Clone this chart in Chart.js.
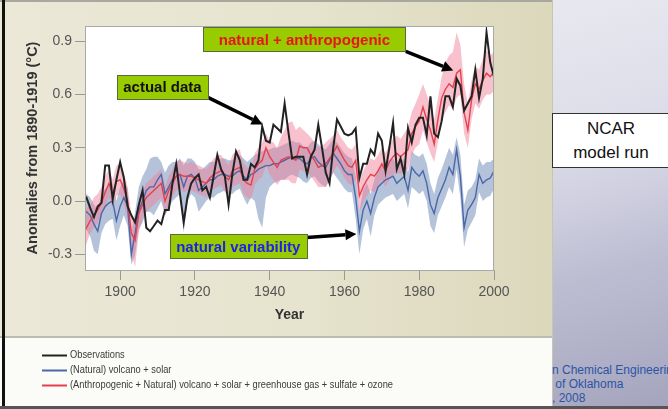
<!DOCTYPE html>
<html><head><meta charset="utf-8">
<script src="https://cdn.jsdelivr.net/npm/chart.js@4"></script>
<style>
html,body{margin:0;padding:0;width:668px;height:409px;overflow:hidden;font-family:"Liberation Sans",Arial,sans-serif;background:#fff}
#beige{position:absolute;left:0;top:0;width:552px;height:337px;background:linear-gradient(to right,#ebe8d8 0%,#e6e3ce 55%,#dcd8bc 100%);border-top:2px solid #a9a89e;box-sizing:border-box}
#white{position:absolute;left:0;top:336px;width:552px;height:73px;background:#fbfbf7;border-top:2px solid #bdbcb2;box-sizing:border-box}
#lborder{position:absolute;left:2px;top:0;width:3px;height:409px;background:#111}
#right{position:absolute;left:552px;top:0;width:116px;height:409px;background:linear-gradient(165deg,#e8e8f0 0%,#dedeea 30%,#cfcfe0 48%,#bdbdd2 65%,#a4a4be 100%);border-left:1px solid #c8c6b0;box-sizing:border-box}
#bottomline{position:absolute;left:0;top:406px;width:668px;height:3px;background:#555}
#ncar{position:absolute;left:552px;top:113px;width:118px;height:55px;background:#fff;border:1px solid #333;box-sizing:border-box;text-align:center;font-size:17px;line-height:24px;color:#111;padding-top:3px}
#footer{position:absolute;left:552px;top:363px;font-size:12px;line-height:14px;color:#2b55a4;white-space:nowrap}
#wrap{position:absolute;left:0;top:0;width:553px;height:409px}
</style></head>
<body>
<div id="beige"></div>
<div id="white"></div>
<div id="right"></div>
<div id="lborder"></div>
<div id="bottomline"></div>
<div id="ncar">NCAR<br>model run</div>
<div id="footer">n Chemical Engineerin<br>&nbsp;of Oklahoma<br>, 2008</div>
<div id="wrap"><canvas id="c" width="553" height="409"></canvas></div>
<script>
// ---- data, one value per year from firstYear ----
const firstYear = 1890;
const xTicks = [1900, 1920, 1940, 1960, 1980, 2000];
const yTicks = [-0.3, 0.0, 0.3, 0.6, 0.9];

const observations = [
  0.03, 0.02, -0.04, -0.09, -0.03, -0.01, 0.20, 0.20, 0.01, 0.12,
  0.22, 0.13, -0.03, -0.08, -0.12, -0.02, 0.06, -0.15, -0.17, -0.14,
  -0.11, -0.13, -0.05, -0.05, 0.10, 0.21, 0.04, -0.12, 0.02, 0.10,
  0.13, 0.15, 0.06, 0.08, 0.02, 0.14, 0.26, 0.18, 0.14, -0.02,
  0.15, 0.28, 0.23, 0.12, 0.12, 0.21, 0.19, 0.23, 0.42, 0.34,
  0.33, 0.43, 0.41, 0.39, 0.55, 0.39, 0.24, 0.25, 0.25, 0.25,
  0.15, 0.25, 0.29, 0.43, 0.30, 0.16, 0.10, 0.30, 0.46, 0.42,
  0.38, 0.37, 0.38, 0.41, 0.13, 0.21, 0.21, 0.29, 0.26, 0.38,
  0.34, 0.17, 0.30, 0.44, 0.18, 0.24, 0.15, 0.41, 0.33, 0.43,
  0.47, 0.47, 0.37, 0.59, 0.38, 0.36, 0.45, 0.59, 0.59, 0.53,
  0.69, 0.65, 0.51, 0.55, 0.59, 0.74, 0.58, 0.69, 0.95, 0.78,
  0.70
];

const anthroMean = [
  -0.20, -0.15, -0.11, -0.08, -0.05, -0.01, 0.05, 0.10, 0.04, 0.11,
  0.12, 0.07, 0.00, -0.18, -0.22, -0.07, -0.02, 0.02, 0.04, 0.06,
  0.08, 0.10, 0.00, 0.06, 0.10, 0.14, 0.15, 0.14, 0.14, 0.14,
  0.13, 0.12, 0.11, 0.10, 0.13, 0.15, 0.16, 0.17, 0.14, 0.12,
  0.17, 0.18, 0.19, 0.12, 0.10, 0.09, 0.18, 0.21, 0.23, 0.30,
  0.25, 0.22, 0.19, 0.23, 0.24, 0.25, 0.24, 0.23, 0.31, 0.30,
  0.30, 0.26, 0.23, 0.19, 0.20, 0.21, 0.24, 0.27, 0.31, 0.27,
  0.23, 0.20, 0.19, 0.23, 0.03, 0.08, 0.12, 0.15, 0.14, 0.17,
  0.21, 0.17, 0.22, 0.25, 0.27, 0.25, 0.27, 0.29, 0.38, 0.42,
  0.45, 0.53, 0.46, 0.40, 0.32, 0.46, 0.58, 0.63, 0.66, 0.64,
  0.72, 0.74, 0.50, 0.40, 0.57, 0.66, 0.63, 0.68, 0.72, 0.70,
  0.73
];
const anthroLow = [
  -0.30, -0.24, -0.18, -0.15, -0.12, -0.08, -0.03, 0.02, -0.04, 0.03,
  0.04, -0.02, -0.10, -0.30, -0.37, -0.17, -0.10, -0.06, -0.04, -0.02,
  0.00, 0.02, -0.08, -0.03, 0.02, 0.06, 0.07, 0.05, 0.06, 0.06,
  0.05, 0.04, 0.03, 0.02, 0.05, 0.07, 0.08, 0.09, 0.05, 0.03,
  0.08, 0.09, 0.10, 0.04, 0.02, 0.01, 0.09, 0.12, 0.14, 0.20,
  0.15, 0.12, 0.09, 0.12, 0.12, 0.12, 0.10, 0.10, 0.18, 0.17,
  0.17, 0.14, 0.11, 0.08, 0.08, 0.08, 0.12, 0.16, 0.20, 0.17,
  0.13, 0.10, 0.09, 0.12, -0.06, -0.01, 0.03, 0.06, 0.05, 0.08,
  0.12, 0.08, 0.12, 0.15, 0.16, 0.15, 0.17, 0.18, 0.26, 0.30,
  0.32, 0.40, 0.33, 0.27, 0.22, 0.33, 0.45, 0.50, 0.54, 0.52,
  0.58, 0.60, 0.38, 0.30, 0.46, 0.55, 0.52, 0.57, 0.60, 0.60,
  0.62
];
const anthroHigh = [
  -0.02, -0.04, -0.02, 0.02, 0.04, 0.08, 0.14, 0.18, 0.12, 0.20,
  0.21, 0.16, 0.08, -0.08, -0.12, 0.02, 0.06, 0.10, 0.12, 0.14,
  0.16, 0.18, 0.08, 0.14, 0.18, 0.22, 0.23, 0.22, 0.21, 0.22,
  0.21, 0.20, 0.19, 0.18, 0.21, 0.24, 0.26, 0.26, 0.23, 0.20,
  0.26, 0.28, 0.29, 0.21, 0.19, 0.18, 0.27, 0.30, 0.33, 0.38,
  0.34, 0.33, 0.30, 0.36, 0.40, 0.44, 0.45, 0.40, 0.42, 0.40,
  0.38, 0.36, 0.33, 0.30, 0.31, 0.33, 0.35, 0.37, 0.40, 0.36,
  0.33, 0.30, 0.29, 0.32, 0.12, 0.17, 0.21, 0.24, 0.23, 0.26,
  0.30, 0.27, 0.32, 0.35, 0.37, 0.35, 0.38, 0.42, 0.50, 0.55,
  0.60, 0.66, 0.60, 0.54, 0.46, 0.58, 0.70, 0.78, 0.82, 0.84,
  0.95, 0.88, 0.66, 0.55, 0.68, 0.76, 0.74, 0.80, 0.85, 0.82,
  0.84
];

const naturalMean = [
  -0.05, -0.06, -0.08, -0.13, -0.17, -0.07, -0.03, -0.01, 0.00, -0.11,
  -0.03, 0.02, -0.03, -0.30, -0.18, -0.05, 0.00, 0.06, 0.08, 0.08,
  0.12, 0.15, 0.04, 0.08, 0.12, 0.14, 0.15, 0.08, 0.14, 0.15,
  0.13, 0.06, 0.08, 0.10, 0.12, 0.12, 0.14, 0.15, 0.15, 0.14,
  0.14, 0.16, 0.17, 0.14, 0.12, 0.15, 0.16, 0.18, 0.19, 0.20,
  0.20, 0.21, 0.21, 0.22, 0.23, 0.24, 0.25, 0.24, 0.24, 0.22,
  0.21, 0.24, 0.25, 0.22, 0.20, 0.19, 0.23, 0.27, 0.24, 0.21,
  0.17, 0.15, 0.15, 0.02, -0.17, -0.05, 0.00, -0.07, 0.02, 0.08,
  0.10, 0.12, 0.13, 0.14, 0.10, 0.12, 0.14, 0.06, 0.19, 0.16,
  0.14, 0.17, 0.10, -0.02, -0.07, 0.02, 0.07, 0.12, 0.19, 0.15,
  0.29, 0.14, -0.15, -0.05, -0.02, 0.02, 0.15, 0.10, 0.12, 0.13,
  0.17
];
const naturalLow = [
  -0.14, -0.16, -0.20, -0.28, -0.30, -0.18, -0.13, -0.11, -0.10, -0.22,
  -0.14, -0.08, -0.14, -0.36, -0.30, -0.16, -0.12, -0.06, -0.06, -0.08,
  -0.04, 0.00, -0.08, -0.04, 0.00, 0.02, 0.04, -0.18, 0.00, 0.04,
  0.02, -0.06, -0.03, 0.00, 0.02, 0.02, 0.04, 0.05, 0.06, 0.04,
  0.04, 0.06, 0.07, 0.02, -0.02, 0.02, 0.00, -0.10, -0.15, 0.02,
  0.08, 0.10, 0.11, 0.12, 0.12, 0.14, 0.15, 0.14, 0.13, 0.11,
  0.10, 0.13, 0.14, 0.11, 0.09, 0.08, 0.12, 0.16, 0.13, 0.10,
  0.07, 0.05, 0.05, -0.10, -0.30, -0.16, -0.10, -0.20, -0.08, -0.02,
  0.00, 0.02, 0.03, 0.04, 0.00, 0.02, 0.04, -0.04, 0.08, 0.06,
  0.04, 0.06, 0.00, -0.14, -0.18, -0.08, -0.03, 0.02, 0.08, 0.04,
  0.18, 0.02, -0.26, -0.16, -0.12, -0.08, 0.05, 0.00, 0.02, 0.03,
  0.07
];
const naturalHigh = [
  0.06, 0.04, 0.02, -0.02, -0.05, 0.04, 0.07, 0.09, 0.10, 0.00,
  0.08, 0.12, 0.07, -0.18, -0.06, 0.08, 0.14, 0.18, 0.24, 0.25,
  0.25, 0.22, 0.16, 0.20, 0.22, 0.22, 0.24, 0.20, 0.24, 0.24,
  0.22, 0.18, 0.18, 0.20, 0.22, 0.22, 0.23, 0.24, 0.24, 0.23,
  0.23, 0.25, 0.26, 0.24, 0.22, 0.24, 0.26, 0.27, 0.28, 0.29,
  0.29, 0.30, 0.30, 0.31, 0.32, 0.33, 0.34, 0.33, 0.33, 0.31,
  0.30, 0.33, 0.34, 0.32, 0.30, 0.29, 0.32, 0.35, 0.33, 0.30,
  0.27, 0.25, 0.24, 0.14, -0.06, 0.06, 0.10, 0.04, 0.12, 0.18,
  0.20, 0.22, 0.23, 0.24, 0.20, 0.22, 0.24, 0.16, 0.28, 0.26,
  0.25, 0.27, 0.21, 0.10, 0.04, 0.13, 0.18, 0.24, 0.30, 0.26,
  0.36, 0.26, -0.02, 0.06, 0.08, 0.12, 0.24, 0.20, 0.22, 0.22,
  0.24
];

const seriesNames = [
  'Observations',
  '(Natural) volcano + solar',
  '(Anthropogenic + Natural) volcano + solar + greenhouse gas + sulfate + ozone'
];
const yAxisTitle = 'Anomalies from 1890-1919 (\u00B0C)';
const xAxisTitle = 'Year';

// ---- annotation callouts (positions in data units) ----
const callouts = [
  {text: 'natural + anthropogenic', color: '#e8141c', cx: 1949.3, cy: 0.910, w: 202, h: 24},
  {text: 'actual data',             color: '#111111', cx: 1911.3, cy: 0.645, w: 91,  h: 24},
  {text: 'natural variability',     color: '#1c22e6', cx: 1931.6, cy: -0.255, w: 137, h: 24}
];
const arrows = [
  {x0: 1976.4, y0: 0.843, x1: 1989.1, y1: 0.735},
  {x0: 1923.6, y0: 0.583, x1: 1938.1, y1: 0.432},
  {x0: 1949.9, y0: -0.205, x1: 1963.2, y1: -0.185}
];

// ---- build ----
const years = observations.map((_, i) => firstYear + i);
const pts = arr => arr.map((v, i) => ({x: years[i], y: v}));

const COL_OBS = '#222222', COL_NAT = '#4a68a8', COL_ANT = '#e6404c';

Chart.defaults.font.family = '"Liberation Sans", Arial, Helvetica, sans-serif';

const bgPlugin = {
  id: 'plotbg',
  beforeDraw(chart) {
    const {ctx, chartArea: a} = chart;
    ctx.save(); ctx.fillStyle = '#ffffff';
    ctx.fillRect(a.left, a.top, a.right - a.left, a.bottom - a.top);
    ctx.restore();
  },
  afterDraw(chart) {
    const {ctx, chartArea: a} = chart;
    ctx.save();
    ctx.strokeStyle = '#a8a8a8'; ctx.lineWidth = 1;
    ctx.strokeRect(a.left + 0.5, a.top + 0.5, a.right - a.left - 1, a.bottom - a.top);
    ctx.restore();
  }
};

const notePlugin = {
  id: 'notes',
  afterDatasetsDraw(chart) {
    const {ctx, scales: {x, y}} = chart;
    ctx.save();
    arrows.forEach(a => {
      const x0 = x.getPixelForValue(a.x0), y0 = y.getPixelForValue(a.y0);
      const x1 = x.getPixelForValue(a.x1), y1 = y.getPixelForValue(a.y1);
      const ang = Math.atan2(y1 - y0, x1 - x0);
      const hl = 11, hw = 5.5;
      const bx = x1 - hl * Math.cos(ang), by = y1 - hl * Math.sin(ang);
      ctx.strokeStyle = '#000'; ctx.fillStyle = '#000'; ctx.lineWidth = 3.5;
      ctx.beginPath(); ctx.moveTo(x0, y0); ctx.lineTo(bx, by); ctx.stroke();
      ctx.beginPath();
      ctx.moveTo(x1, y1);
      ctx.lineTo(bx + hw * Math.sin(ang), by - hw * Math.cos(ang));
      ctx.lineTo(bx - hw * Math.sin(ang), by + hw * Math.cos(ang));
      ctx.closePath(); ctx.fill();
    });
    callouts.forEach(c => {
      const cx = x.getPixelForValue(c.cx), cy = y.getPixelForValue(c.cy);
      const l = Math.round(cx - c.w / 2) + 0.5, t = Math.round(cy - c.h / 2) + 0.5;
      ctx.fillStyle = '#99cc00';
      ctx.fillRect(l, t, c.w, c.h);
      ctx.strokeStyle = '#5a6a40'; ctx.lineWidth = 1;
      ctx.strokeRect(l, t, c.w, c.h);
      ctx.fillStyle = c.color;
      ctx.font = 'bold 15px "Liberation Sans", Arial, sans-serif';
      ctx.textAlign = 'center'; ctx.textBaseline = 'middle';
      ctx.fillText(c.text, cx, cy + 1);
    });
    ctx.restore();
  }
};

const legendPlugin = {
  id: 'sideLegend',
  afterDraw(chart) {
    const {ctx} = chart;
    const items = chart.data.datasets.filter(d => d.legendRank !== undefined)
      .sort((a, b) => a.legendRank - b.legendRank);
    ctx.save();
    ctx.font = '11px "Liberation Sans", Arial, sans-serif';
    const longest = Math.max(...items.map(d => ctx.measureText(d.label).width));
    const sx = 323 / longest;
    items.forEach((d, i) => {
      const yy = 355 + i * 15;
      ctx.strokeStyle = d.borderColor; ctx.lineWidth = 2;
      ctx.beginPath(); ctx.moveTo(42, yy + 0.5); ctx.lineTo(67, yy + 0.5); ctx.stroke();
      ctx.save();
      ctx.translate(70, yy);
      ctx.scale(sx, 1);
      ctx.fillStyle = '#3a3a3a';
      ctx.textAlign = 'left'; ctx.textBaseline = 'middle';
      ctx.fillText(d.label, 0, 0);
      ctx.restore();
    });
    ctx.restore();
  }
};

new Chart(document.getElementById('c'), {
  type: 'line',
  data: {
    datasets: [
      {label: seriesNames[0], legendRank: 0, data: pts(observations), borderColor: COL_OBS, borderWidth: 2, pointRadius: 0, order: 0, fill: false},
      {label: seriesNames[2], legendRank: 2, data: pts(anthroMean), borderColor: COL_ANT, borderWidth: 1.4, pointRadius: 0, order: 1, fill: false},
      {label: seriesNames[1], legendRank: 1, data: pts(naturalMean), borderColor: COL_NAT, borderWidth: 1.4, pointRadius: 0, order: 2, fill: false},
      {label: 'anthro low', data: pts(anthroLow), borderWidth: 0, borderColor: 'rgba(0,0,0,0)', pointRadius: 0, order: 4, fill: false},
      {label: 'anthro high', data: pts(anthroHigh), borderWidth: 0, borderColor: 'rgba(0,0,0,0)', pointRadius: 0, order: 3, fill: 3, backgroundColor: 'rgba(240,125,150,0.48)'},
      {label: 'natural low', data: pts(naturalLow), borderWidth: 0, borderColor: 'rgba(0,0,0,0)', pointRadius: 0, order: 6, fill: false},
      {label: 'natural high', data: pts(naturalHigh), borderWidth: 0, borderColor: 'rgba(0,0,0,0)', pointRadius: 0, order: 5, fill: 5, backgroundColor: 'rgba(98,130,178,0.48)'}
    ]
  },
  options: {
    responsive: false, animation: false, devicePixelRatio: 1,
    layout: {padding: {left: 10, right: 59, top: 26, bottom: 85}},
    plugins: {legend: {display: false}, tooltip: {enabled: false}},
    elements: {line: {tension: 0}},
    scales: {
      x: {
        type: 'linear', min: 1890.6, max: 2000,
        afterBuildTicks: s => { s.ticks = xTicks.map(v => ({value: v})); },
        afterFit: s => { s.height = 54; },
        ticks: {color: '#555', font: {size: 14}, padding: 4, maxRotation: 0, callback: v => String(v)},
        grid: {drawOnChartArea: false, drawTicks: true, tickLength: 10, color: '#999'},
        border: {display: true, color: '#a8a8a8'},
        title: {display: true, text: xAxisTitle, color: '#333', font: {size: 14, weight: 'bold'}, padding: {top: 0, bottom: 0}}
      },
      y: {
        min: -0.388, max: 0.986,
        afterBuildTicks: s => { s.ticks = yTicks.map(v => ({value: v})); },
        afterFit: s => { s.width = 75; },
        ticks: {color: '#555', font: {size: 14}, padding: 3, callback: v => v.toFixed(1)},
        grid: {drawOnChartArea: false, drawTicks: true, tickLength: 10, color: '#999'},
        border: {display: true, color: '#a8a8a8'},
        title: {display: true, text: yAxisTitle, color: '#333', font: {size: 14.5, weight: 'bold'}, padding: {top: 14, bottom: 0}}
      }
    }
  },
  plugins: [bgPlugin, notePlugin, legendPlugin]
});
</script>
</body></html>
